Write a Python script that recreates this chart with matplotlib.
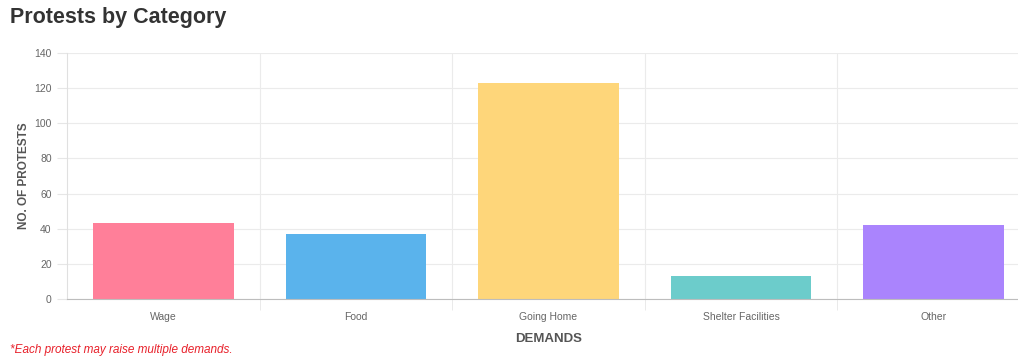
import matplotlib.pyplot as plt

plt.rcParams["font.family"] = ["Liberation Sans", "DejaVu Sans"]

categories = ["Wage", "Food", "Going Home", "Shelter Facilities", "Other"]
protests = [43, 37, 123, 13, 42]
colors = ["#FF7F99", "#5AB3EC", "#FED67A", "#6CCCCB", "#AA84FD"]
yticks = [0, 20, 40, 60, 80, 100, 120, 140]

W, H = 1018, 358
fig = plt.figure(figsize=(W / 100, H / 100), dpi=100)
ax = fig.add_axes([67 / W, 1 - 299 / H, (1030 - 67) / W, (299 - 53) / H])

x = range(len(categories))
ax.bar(x, protests, width=0.73, color=colors, zorder=3)

ax.set_xlim(-0.5, len(categories) - 0.5)
ax.set_ylim(0, 140)
ax.set_yticks(yticks)
ax.set_xticks([i + 0.5 for i in range(len(categories) - 1)], minor=True)
ax.set_xticks(list(x))
ax.set_xticklabels(categories)
ax.tick_params(axis="x", which="major", length=0, pad=9, labelsize=7.5, labelcolor="#666666")
ax.tick_params(axis="x", which="minor", length=8, color="#e6e6e6")
ax.tick_params(axis="y", length=7, color="#e6e6e6", pad=4, labelsize=7.5, labelcolor="#666666")

ax.grid(axis="y", color="#ebebeb", lw=0.8, zorder=0)
ax.grid(axis="x", which="minor", color="#ebebeb", lw=0.8, zorder=0)
for s in ["top", "right"]:
    ax.spines[s].set_visible(False)
ax.spines["left"].set_color("#e0e0e0")
ax.spines["bottom"].set_color("#bdbdbd")
ax.spines["bottom"].set_zorder(4)

ax.set_ylabel("NO. OF PROTESTS", fontsize=8.5, fontweight="bold", color="#555555", labelpad=3)
ax.set_xlabel("DEMANDS", fontsize=9.5, fontweight="bold", color="#555555", labelpad=8)

fig.text(10 / W, 1 - 17 / H, "Protests by Category", fontsize=15.5, fontweight="bold",
         color="#333333", va="center", ha="left")
fig.text(10 / W, 1 - 350 / H, "*Each protest may raise multiple demands.", fontsize=8.5,
         style="italic", color="#e8202a", va="center", ha="left")

fig.savefig("out.png", dpi=100)
